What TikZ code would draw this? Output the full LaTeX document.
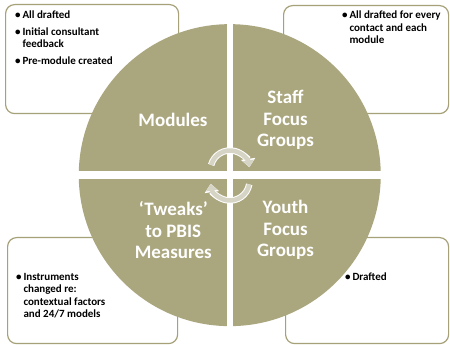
\documentclass[tikz,border=0pt]{standalone}
\usepackage{fontspec}
\setmainfont{Carlito}
\usepackage{xcolor}
\usetikzlibrary{arrows.meta, positioning}
\definecolor{wheelolive}{RGB}{170,166,126}
\definecolor{boxline}{RGB}{166,161,120}
\definecolor{cyclefill}{RGB}{214,212,197}
\tikzset{
	notebox/.style={draw=boxline, line width=1.2pt, rounded corners=9pt, fill=white, inner sep=0pt, anchor=north west},
	notetext/.style={font=\bfseries\fontsize{11}{12.5}\selectfont, align=left, anchor=north west, inner sep=0pt},
	quadlabel/.style={font=\bfseries\fontsize{19}{21.5}\selectfont, text=white, align=center},
	cyclearrow/.style={line width=4.5pt, cyclefill, -{Triangle[width=11pt,length=7pt]}},
	cycleedge/.style={line width=6.5pt, white, -{Triangle[width=14pt,length=8.5pt]}}
}
\newcommand{\bul}{\textbullet\,}
\newcommand{\nobul}{\hphantom{\textbullet\,}}

\begin{document}
\begin{tikzpicture}[x=1pt, y=1pt]
		\fill[white] (0,0) rectangle (450,345);
		\useasboundingbox (0,0) rectangle (450,345);

		\node[notebox, minimum width=173pt, minimum height=109pt] (modbox) at (5,341) {};
		\node[notebox, minimum width=165pt, minimum height=108pt] (staffbox) at (283,340) {};
		\node[notebox, minimum width=170pt, minimum height=106pt] (pbisbox) at (7,108) {};
		\node[notebox, minimum width=163pt, minimum height=106pt] (youthbox) at (285,108) {};

		\node[circle, fill=wheelolive, inner sep=0pt, minimum size=302pt] (wheel) at (229.75,169.85) {};
		\fill[white] (226.5,15) rectangle (233,325);
		\fill[white] (75,165.7) rectangle (385,174);

		\draw (173,225)     node[quadlabel] (modules) {Modules}
		(285.5,225)   node[quadlabel] (staff) {Staff\\Focus\\Groups}
		(173.3,114.7) node[quadlabel] (tweaks) {`Tweaks'\\to PBIS\\Measures}
		(285.5,114.7) node[quadlabel] (youth) {Youth\\Focus\\Groups};

		\node[notetext] (modnotes) at (15,334) {\bul All drafted\\[4pt]\bul Initial consultant\\\nobul feedback\\[4pt]\bul Pre-module created};
		\node[notetext] (staffnotes) at (342,334) {\bul All drafted for every\\\nobul contact and each\\\nobul module};
		\node[notetext] (pbisnotes) at (16,72) {\bul Instruments\\\nobul changed re:\\\nobul contextual factors\\\nobul and 24/7 models};
		\node[notetext] (youthnotes) at (345,72) {\bul Drafted};

		\draw[cycleedge] (230,175) ++(165:19.5pt) arc[start angle=165, end angle=8, radius=19.5pt];
		\draw[cyclearrow] (230,175) ++(165:19.5pt) arc[start angle=165, end angle=8, radius=19.5pt];
		\draw[cycleedge] (230,164) ++(-10:19.5pt) arc[start angle=-10, end angle=-172, radius=19.5pt];
		\draw[cyclearrow] (230,164) ++(-10:19.5pt) arc[start angle=-10, end angle=-172, radius=19.5pt];
	\end{tikzpicture}
\end{document}
